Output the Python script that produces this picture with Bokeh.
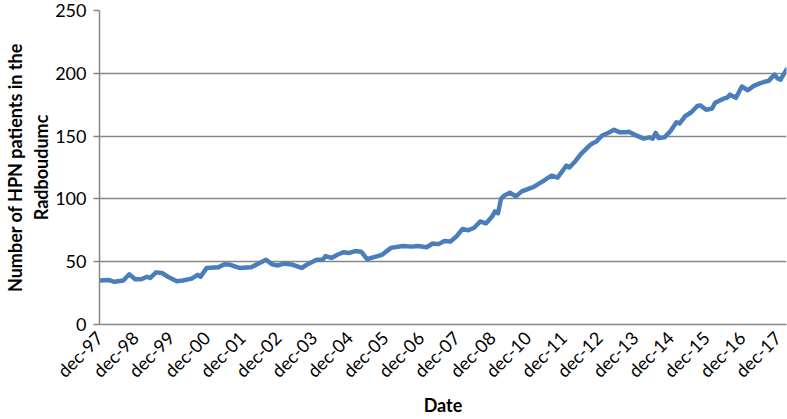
from bokeh.plotting import figure
from bokeh.models import Range1d, FixedTicker
from bokeh.embed import file_html
from bokeh.resources import INLINE

# month index (0 = dec-97) and number of HPN patients
month_index = [0, 3, 5, 8, 10, 12, 14, 16, 17, 19, 21, 23, 26, 28, 31, 33, 34, 36, 40, 42,
               44, 47, 51, 53, 56, 58, 60, 62, 65, 68, 70, 73, 75, 76, 78, 80, 82, 84, 86, 88,
               90, 92, 95, 98, 102, 105, 107, 110, 112, 114, 116, 118, 120, 122, 124, 126, 128, 130, 132, 133,
               134, 135, 136, 138, 140, 142, 146, 149, 152, 154, 157, 158, 160, 162, 165, 166, 167, 169, 171, 173,
               175, 177, 178, 180, 183, 185, 186, 187, 188, 190, 192, 194, 195, 197, 199, 201, 202, 204, 206, 207,
               210, 211, 212, 214, 216, 218, 220, 222, 224, 225, 227, 228, 229, 231]
patients = [35, 35.5, 34, 35, 40, 36, 36, 38, 37, 41.5, 41, 38, 34.5, 35, 36.5, 39.5, 38, 45, 45.5, 48,
            47.5, 45, 45.5, 48, 51.5, 48, 47, 48.5, 47.5, 45, 48, 51.5, 51.5, 54.5, 53, 55.5, 57.5, 57, 58.5, 58,
            52, 53.5, 55.5, 61, 62.5, 62, 62.5, 61.5, 64.5, 64, 66.5, 66, 70, 76, 75, 77, 82, 80.5, 86, 90,
            88.5, 100, 102.5, 105, 102, 106, 109.5, 114, 118.5, 117, 126.5, 125, 130, 136, 143, 144.5, 145.5, 150.5, 152.5, 155,
            153, 153, 153.5, 151, 148, 149, 148, 152.5, 148.5, 149, 154, 161, 160, 166, 169, 174, 174.5, 171, 172, 176.5,
            180, 180.5, 183, 180.5, 189.5, 186.5, 190, 192, 193.5, 194, 199, 196, 195, 203]

tick_positions = [0, 12, 24, 36, 48, 60, 72, 84, 96, 108, 120, 132, 144, 156, 168, 180, 192, 204, 216, 228]
tick_labels = ["dec-97", "dec-98", "dec-99", "dec-00", "dec-01", "dec-02", "dec-03", "dec-04", "dec-05",
               "dec-06", "dec-07", "dec-08", "dec-10", "dec-11", "dec-12", "dec-13", "dec-14", "dec-15",
               "dec-16", "dec-17"]
y_ticks = [0, 50, 100, 150, 200, 250]

GRAY = "#868686"
FONT = "Lato"

p = figure(width=787, height=419, output_backend="svg", toolbar_location=None,
           x_range=Range1d(0, 231), y_range=Range1d(0, 250),
           min_border_top=10, min_border_right=1, min_border_left=0, min_border_bottom=0)
p.outline_line_color = None
p.background_fill_color = "white"
p.border_fill_color = "white"

p.line(month_index, patients, line_width=4.5, line_color="#4A7EBB", line_join="round", line_cap="round")

p.xgrid.grid_line_color = None
p.ygrid.grid_line_color = GRAY
p.ygrid.grid_line_width = 1.3
p.ygrid.ticker = FixedTicker(ticks=y_ticks)

p.yaxis.ticker = FixedTicker(ticks=y_ticks)
p.yaxis.minor_tick_line_color = None
p.yaxis.major_tick_in = 0
p.yaxis.major_tick_out = 6
p.yaxis.major_tick_line_color = GRAY
p.yaxis.major_tick_line_width = 1.3
p.yaxis.axis_line_color = GRAY
p.yaxis.axis_line_width = 1.5
p.yaxis.major_label_text_font = FONT
p.yaxis.major_label_text_font_size = "18px"
p.yaxis.major_label_text_color = "black"
p.yaxis.major_label_standoff = 7
p.yaxis.axis_label = "Number of HPN patients in the\nRadboudumc"
p.yaxis.axis_label_text_font = FONT
p.yaxis.axis_label_text_font_style = "bold"
p.yaxis.axis_label_text_font_size = "18px"
p.yaxis.axis_label_text_color = "black"
p.yaxis.axis_label_standoff = 0

p.xaxis.ticker = FixedTicker(ticks=tick_positions)
p.xaxis.major_label_overrides = {t: l for t, l in zip(tick_positions, tick_labels)}
p.xaxis.minor_tick_line_color = None
p.xaxis.major_tick_in = 0
p.xaxis.major_tick_out = 0
p.xaxis.axis_line_color = GRAY
p.xaxis.axis_line_width = 1.5
p.xaxis.major_label_orientation = 0.785398
p.xaxis.major_label_text_font = FONT
p.xaxis.major_label_text_font_size = "18px"
p.xaxis.major_label_text_color = "black"
p.xaxis.major_label_standoff = 10
p.xaxis.axis_label = "Date"
p.xaxis.axis_label_text_font = FONT
p.xaxis.axis_label_text_font_style = "bold"
p.xaxis.axis_label_text_font_size = "18px"
p.xaxis.axis_label_text_color = "black"
p.xaxis.axis_label_standoff = 2

open("out.html", "w").write(file_html(p, INLINE))
